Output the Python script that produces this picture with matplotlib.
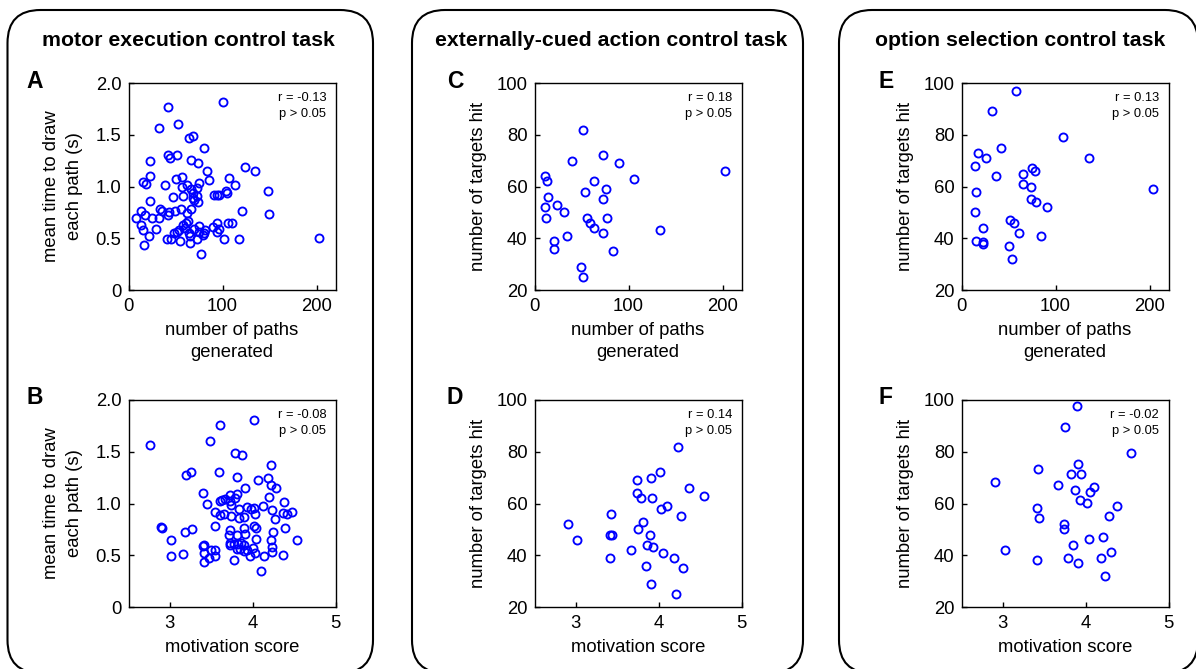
import matplotlib
matplotlib.use("Agg")
import matplotlib.pyplot as plt
from matplotlib.patches import FancyBboxPatch

plt.rcParams['font.family'] = ['Liberation Sans', 'DejaVu Sans']

# ---------------- data ----------------
titles = ["motor execution control task",
          "externally-cued action control task",
          "option selection control task"]
letters_top = ["A", "C", "E"]
letters_bot = ["B", "D", "F"]
stats_top = [("r = -0.13", "p > 0.05"), ("r = 0.18", "p > 0.05"), ("r = 0.13", "p > 0.05")]
stats_bot = [("r = -0.08", "p > 0.05"), ("r = 0.14", "p > 0.05"), ("r = -0.02", "p > 0.05")]

A_x = [41.5, 100.7, 32.6, 52.4, 64.1, 68.8, 80.5, 22.6, 42.5, 43.9, 51.7, 66.3, 73.7, 123.4,
       134.4, 83.6, 22.6, 15.6, 18.4, 39.3, 51.0, 56.7, 85.4, 107.1, 112.7, 56.7, 62.7, 66.6,
       74.4, 73.0, 68.8, 47.5, 58.2, 72.3, 68.1, 69.5, 73.7, 22.6, 90.7, 94.3, 96.4, 103.5,
       104.2, 148.5, 13.8, 8.5, 17.2, 25.5, 32.6, 34.0, 36.1, 41.8, 43.3, 49.3, 55.6, 66.3,
       62.4, 120.2, 149.2, 13.8, 14.9, 28.7, 21.6, 16.6, 40.4, 45.7, 48.2, 51.7, 53.9, 54.6,
       58.1, 60.9, 63.4, 59.9, 64.5, 65.2, 65.6, 69.5, 74.4, 75.2, 78.7, 80.1, 81.5, 77.3,
       90.0, 94.3, 93.6, 96.1, 101.4, 105.6, 109.5, 117.3, 202.1, 72.3]
A_y = [1.77, 1.82, 1.57, 1.60, 1.47, 1.49, 1.37, 1.25, 1.30, 1.28, 1.30, 1.26, 1.23, 1.19,
       1.15, 1.15, 1.10, 1.04, 1.02, 1.01, 1.07, 1.09, 1.06, 1.08, 1.01, 1.00, 1.01, 0.98,
       1.03, 0.99, 0.94, 0.90, 0.91, 0.91, 0.89, 0.87, 0.85, 0.86, 0.92, 0.92, 0.92, 0.96,
       0.94, 0.96, 0.76, 0.70, 0.72, 0.70, 0.70, 0.78, 0.76, 0.72, 0.75, 0.76, 0.78, 0.78,
       0.74, 0.76, 0.73, 0.63, 0.58, 0.59, 0.52, 0.43, 0.49, 0.49, 0.55, 0.56, 0.58, 0.47,
       0.63, 0.65, 0.67, 0.60, 0.55, 0.52, 0.45, 0.59, 0.62, 0.56, 0.53, 0.55, 0.58, 0.35,
       0.61, 0.65, 0.56, 0.59, 0.49, 0.65, 0.65, 0.49, 0.50, 0.49]

B_x = [2.76, 3.61, 4.02, 3.49, 3.79, 3.87, 4.22, 3.20, 3.25, 3.59, 3.81, 4.07, 4.19, 4.22,
       4.28, 3.91, 3.40, 3.45, 3.73, 3.81, 3.79, 3.60, 3.63, 3.67, 3.73, 3.74, 3.84, 3.93,
       3.98, 4.02, 4.12, 4.20, 4.38, 4.23, 4.37, 4.42, 4.48, 3.54, 3.61, 3.65, 3.74, 3.84,
       3.90, 4.03, 4.27, 2.89, 2.90, 3.27, 3.18, 3.55, 3.71, 3.73, 3.81, 3.90, 3.91, 4.02,
       4.04, 4.24, 4.39, 4.54, 3.01, 3.40, 3.41, 3.41, 3.50, 3.55, 3.55, 3.47, 3.41, 3.16,
       3.01, 3.72, 3.72, 3.78, 3.82, 3.86, 3.90, 3.85, 3.89, 3.93, 4.00, 4.04, 3.97, 4.03,
       3.77, 4.10, 4.14, 4.22, 4.23, 4.23, 4.36, 3.81]
B_y = [1.57, 1.76, 1.81, 1.60, 1.49, 1.47, 1.37, 1.28, 1.30, 1.30, 1.26, 1.23, 1.25, 1.18,
       1.15, 1.15, 1.10, 1.00, 1.08, 1.09, 1.05, 1.02, 1.03, 1.04, 1.02, 0.99, 0.95, 0.97,
       0.95, 0.96, 0.98, 1.06, 1.01, 0.94, 0.91, 0.90, 0.92, 0.92, 0.89, 0.90, 0.88, 0.86,
       0.87, 0.90, 0.85, 0.77, 0.76, 0.75, 0.72, 0.78, 0.70, 0.74, 0.70, 0.76, 0.71, 0.78,
       0.76, 0.72, 0.76, 0.65, 0.65, 0.59, 0.60, 0.52, 0.55, 0.55, 0.49, 0.47, 0.43, 0.51,
       0.49, 0.62, 0.60, 0.61, 0.61, 0.62, 0.60, 0.56, 0.54, 0.55, 0.57, 0.66, 0.49, 0.52,
       0.45, 0.35, 0.49, 0.65, 0.58, 0.53, 0.50, 0.56]

C_x = [51.1, 39.9, 72.3, 89.6, 202.5, 11.5, 13.3, 105.4, 62.9, 75.9, 54.0, 14.4, 72.3, 23.7,
       11.5, 30.9, 12.6, 55.8, 77.3, 59.0, 62.9, 133.8, 73.0, 34.5, 20.5, 20.5, 83.8, 49.6, 51.4]
C_y = [82, 70, 72, 69, 66, 64, 62, 63, 62, 59, 58, 56, 55, 53,
       52, 50, 48, 48, 48, 46, 44, 43, 42, 41, 39, 36, 35, 29, 25]

D_x = [4.23, 4.01, 3.91, 3.74, 4.37, 3.74, 3.79, 3.92, 4.55, 4.10, 4.03, 3.42, 4.27, 2.90,
       3.81, 3.75, 3.41, 3.43, 3.90, 3.01, 3.86, 3.93, 3.66, 4.05, 4.19, 3.41, 3.85, 4.29,
       3.91, 4.21]
D_y = [82, 72, 70, 69, 66, 64, 62, 62, 63, 59, 58, 56, 55, 52,
       53, 50, 48, 48, 48, 46, 44, 43, 42, 41, 39, 39, 36, 35,
       29, 25]

E_x = [58.2, 32.9, 107.5, 41.8, 17.1, 26.1, 135.7, 13.9, 37.1, 75.0, 78.6, 65.4, 65.0, 74.3,
       15.0, 73.9, 79.3, 91.1, 13.9, 51.4, 56.1, 22.9, 61.1, 84.3, 15.4, 22.9, 23.2, 50.0,
       53.2, 204.0]
E_y = [97, 89, 79, 75, 73, 71, 71, 68, 64, 67, 66, 65, 61, 60,
       58, 55, 54, 52, 50, 47, 46, 44, 42, 41, 39, 38.7, 37.9, 37,
       32, 59]

F_x = [3.90, 3.75, 4.55, 3.91, 3.42, 3.82, 3.94, 2.90, 3.66, 4.10, 3.87, 4.05, 3.93, 4.02,
       4.38, 3.41, 4.28, 3.43, 3.74, 3.74, 4.21, 4.04, 3.85, 3.02, 4.30, 3.41, 3.79, 4.19,
       3.91, 4.23]
F_y = [97.5, 89.5, 79.4, 75.4, 73.3, 71.3, 71.3, 68.3, 67.3, 66.3, 65.3, 64.3, 61.3, 60.3,
       59.2, 58.2, 55.2, 54.3, 52.2, 50.2, 47.1, 46.2, 44.1, 42.0, 41.1, 38.1, 39.0, 39.0,
       37.1, 32.0]

top_xticks = [0, 100, 200]
bot_xticks = [3, 4, 5]
time_yticks = [0, 0.5, 1.0, 1.5, 2.0]
time_yticklabels = ["0", "0.5", "1.0", "1.5", "2.0"]
hit_yticks = [20, 40, 60, 80, 100]
top_xlabel = "number of paths\ngenerated"
bot_xlabel = "motivation score"
time_ylabel = "mean time to draw\neach path (s)"
hit_ylabel = "number of targets hit"

# ---------------- layout ----------------
W, H = 1196, 669
fig = plt.figure(figsize=(W / 100, H / 100), dpi=100)

bg = fig.add_axes([0, 0, 1, 1], zorder=-1)
bg.set_xlim(0, W)
bg.set_ylim(H, 0)
bg.axis("off")

boxes = [(7.5, 10, 373, 673), (412, 10, 803, 673), (839, 10, 1198, 673)]
title_cx = [188, 611, 1020]
for (x0, y0, x1, y1), t, cx in zip(boxes, titles, title_cx):
    p = FancyBboxPatch((x0, y0), x1 - x0, y1 - y0,
                       boxstyle="round,pad=0,rounding_size=33",
                       fc="white", ec="black", lw=1.5, clip_on=False)
    bg.add_patch(p)
    bg.text(cx, 41, t, ha="center", va="center",
            fontsize=15.3, fontweight="bold")

def px_axes(left, top, w, h):
    return fig.add_axes([left / W, 1 - (top + h) / H, w / W, h / H])

lefts = [128.5, 534.5, 961.5]
letter_x = [34.5, 455, 886]
size = 207
top_row = 83
bot_row = 400
FS = 13.3

datasets_top = [(A_x, A_y), (C_x, C_y), (E_x, E_y)]
datasets_bot = [(B_x, B_y), (D_x, D_y), (F_x, F_y)]

def style(ax):
    for s in ax.spines.values():
        s.set_linewidth(1.0)
    ax.tick_params(direction="in", length=3.5, width=1.0, labelsize=FS,
                   top=False, right=False)
    ax.tick_params(axis="x", pad=6)
    ax.tick_params(axis="y", pad=5)

def finish(ax, i, stats, letter, letter_y, xlabel):
    if i == 0:
        ax.set_ylim(0, 2.0)
        ax.set_yticks(time_yticks)
        ax.set_yticklabels(time_yticklabels)
        ax.set_ylabel(time_ylabel, fontsize=FS, labelpad=9, linespacing=1.45)
    else:
        ax.set_ylim(20, 100)
        ax.set_yticks(hit_yticks)
        ax.set_ylabel(hit_ylabel, fontsize=FS, labelpad=7)
    ax.set_xlabel(xlabel, fontsize=FS, labelpad=5, linespacing=1.4)
    style(ax)
    ax.text(0.955, 0.955, stats[0] + "\n" + stats[1],
            transform=ax.transAxes, ha="right", va="top", fontsize=9.3,
            linespacing=1.45)
    bg.text(letter_x[i], letter_y, letter, ha="center", va="center",
            fontsize=16.5, fontweight="bold")

for i in range(3):
    ax = px_axes(lefts[i], top_row, size, size)
    x, y = datasets_top[i]
    ax.plot(x, y, "o", ls="none", mfc="none", mec=(0, 0, 1), ms=5.8, mew=1.35)
    ax.set_xlim(0, 220)
    ax.set_xticks(top_xticks)
    finish(ax, i, stats_top[i], letters_top[i], 81, top_xlabel)

    ax = px_axes(lefts[i], bot_row, size, size)
    x, y = datasets_bot[i]
    ax.plot(x, y, "o", ls="none", mfc="none", mec=(0, 0, 1), ms=5.8, mew=1.35)
    ax.set_xlim(2.5, 5)
    ax.set_xticks(bot_xticks)
    finish(ax, i, stats_bot[i], letters_bot[i], 398, bot_xlabel)

fig.savefig("out.png", dpi=100)
